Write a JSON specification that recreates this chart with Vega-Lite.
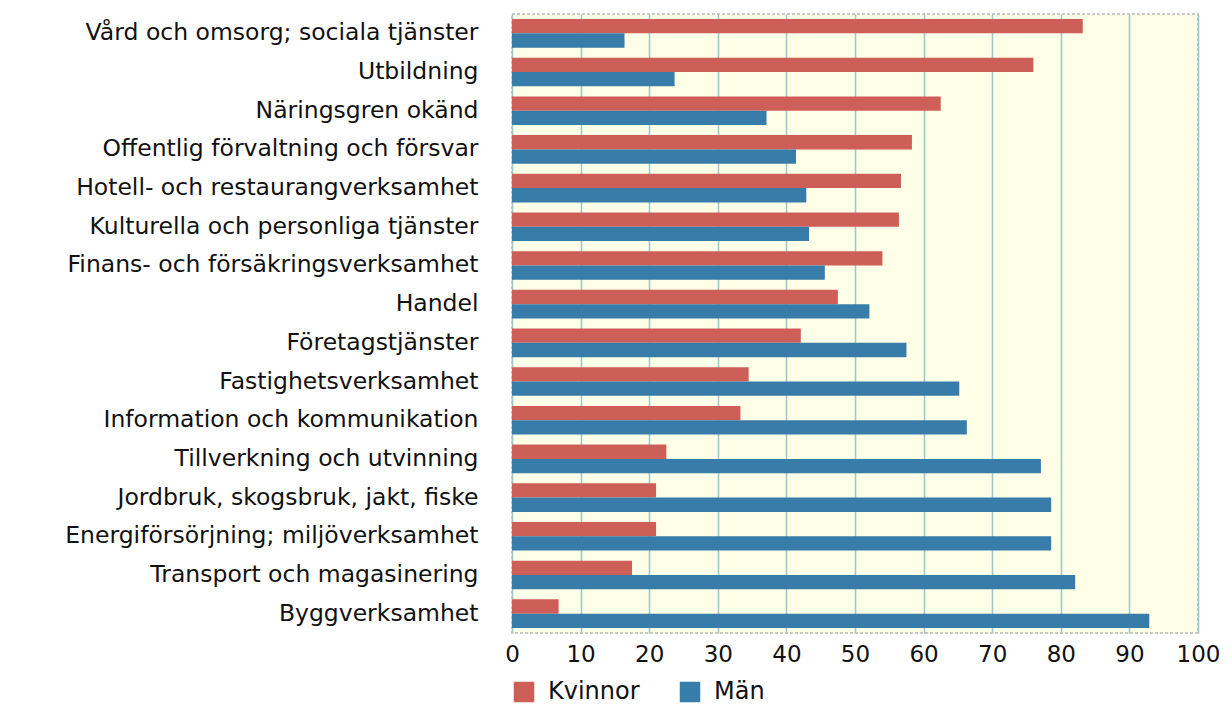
{
  "$schema": "https://vega.github.io/schema/vega-lite/v6.json",
  "width": 686,
  "height": 619,
  "autosize": {"type": "none"},
  "padding": {"left": 512, "top": 14, "right": 34, "bottom": 74},
  "background": "#ffffff",
  "config": {
    "font": "DejaVu Sans",
    "view": {"fill": "#ffffe8", "stroke": "#b8b8b8", "strokeWidth": 1.5, "strokeDash": [3, 2]}
  },
  "data": {
    "values": [
      {"bransch": "Vård och omsorg; sociala tjänster", "kon": "Kvinnor", "andel": 83.2},
      {"bransch": "Vård och omsorg; sociala tjänster", "kon": "Män", "andel": 16.4},
      {"bransch": "Utbildning", "kon": "Kvinnor", "andel": 76.0},
      {"bransch": "Utbildning", "kon": "Män", "andel": 23.7},
      {"bransch": "Näringsgren okänd", "kon": "Kvinnor", "andel": 62.5},
      {"bransch": "Näringsgren okänd", "kon": "Män", "andel": 37.1},
      {"bransch": "Offentlig förvaltning och försvar", "kon": "Kvinnor", "andel": 58.3},
      {"bransch": "Offentlig förvaltning och försvar", "kon": "Män", "andel": 41.4},
      {"bransch": "Hotell- och restaurangverksamhet", "kon": "Kvinnor", "andel": 56.7},
      {"bransch": "Hotell- och restaurangverksamhet", "kon": "Män", "andel": 42.9},
      {"bransch": "Kulturella och personliga tjänster", "kon": "Kvinnor", "andel": 56.4},
      {"bransch": "Kulturella och personliga tjänster", "kon": "Män", "andel": 43.3},
      {"bransch": "Finans- och försäkringsverksamhet", "kon": "Kvinnor", "andel": 54.0},
      {"bransch": "Finans- och försäkringsverksamhet", "kon": "Män", "andel": 45.6},
      {"bransch": "Handel", "kon": "Kvinnor", "andel": 47.5},
      {"bransch": "Handel", "kon": "Män", "andel": 52.1},
      {"bransch": "Företagstjänster", "kon": "Kvinnor", "andel": 42.1},
      {"bransch": "Företagstjänster", "kon": "Män", "andel": 57.5},
      {"bransch": "Fastighetsverksamhet", "kon": "Kvinnor", "andel": 34.5},
      {"bransch": "Fastighetsverksamhet", "kon": "Män", "andel": 65.2},
      {"bransch": "Information och kommunikation", "kon": "Kvinnor", "andel": 33.3},
      {"bransch": "Information och kommunikation", "kon": "Män", "andel": 66.3},
      {"bransch": "Tillverkning och utvinning", "kon": "Kvinnor", "andel": 22.5},
      {"bransch": "Tillverkning och utvinning", "kon": "Män", "andel": 77.1},
      {"bransch": "Jordbruk, skogsbruk, jakt, fiske", "kon": "Kvinnor", "andel": 21.0},
      {"bransch": "Jordbruk, skogsbruk, jakt, fiske", "kon": "Män", "andel": 78.6},
      {"bransch": "Energiförsörjning; miljöverksamhet", "kon": "Kvinnor", "andel": 21.0},
      {"bransch": "Energiförsörjning; miljöverksamhet", "kon": "Män", "andel": 78.6},
      {"bransch": "Transport och magasinering", "kon": "Kvinnor", "andel": 17.5},
      {"bransch": "Transport och magasinering", "kon": "Män", "andel": 82.1},
      {"bransch": "Byggverksamhet", "kon": "Kvinnor", "andel": 6.8},
      {"bransch": "Byggverksamhet", "kon": "Män", "andel": 92.9}
    ]
  },
  "mark": {"type": "bar", "strokeWidth": 0},
  "encoding": {
    "y": {
      "field": "bransch",
      "type": "nominal",
      "sort": null,
      "scale": {"paddingInner": 0.26, "paddingOuter": 0.13},
      "axis": {
        "title": null,
        "domain": false,
        "ticks": false,
        "labelFontSize": 23.5,
        "labelColor": "#111111",
        "labelPadding": 34,
        "labelLimit": 520
      }
    },
    "yOffset": {"field": "kon", "type": "nominal", "sort": ["Kvinnor", "Män"]},
    "x": {
      "field": "andel",
      "type": "quantitative",
      "scale": {"domain": [0, 100], "nice": false},
      "axis": {
        "title": null,
        "values": [0, 10, 20, 30, 40, 50, 60, 70, 80, 90, 100],
        "domain": false,
        "ticks": false,
        "grid": true,
        "gridColor": "#9ccaca",
        "gridWidth": 1.6,
        "gridOpacity": 1,
        "labelFontSize": 23,
        "labelColor": "#111111",
        "labelPadding": 10,
        "labelFlush": false
      }
    },
    "color": {
      "field": "kon",
      "type": "nominal",
      "sort": ["Kvinnor", "Män"],
      "scale": {"domain": ["Kvinnor", "Män"], "range": ["#cd5f58", "#387caa"]},
      "legend": {
        "title": null,
        "orient": "none",
        "direction": "horizontal",
        "legendX": 0,
        "legendY": 666,
        "symbolType": "square",
        "symbolSize": 420,
        "symbolStrokeWidth": 0,
        "labelFontSize": 24,
        "labelColor": "#111111",
        "labelOffset": 12,
        "columnPadding": 38
      }
    }
  }
}
